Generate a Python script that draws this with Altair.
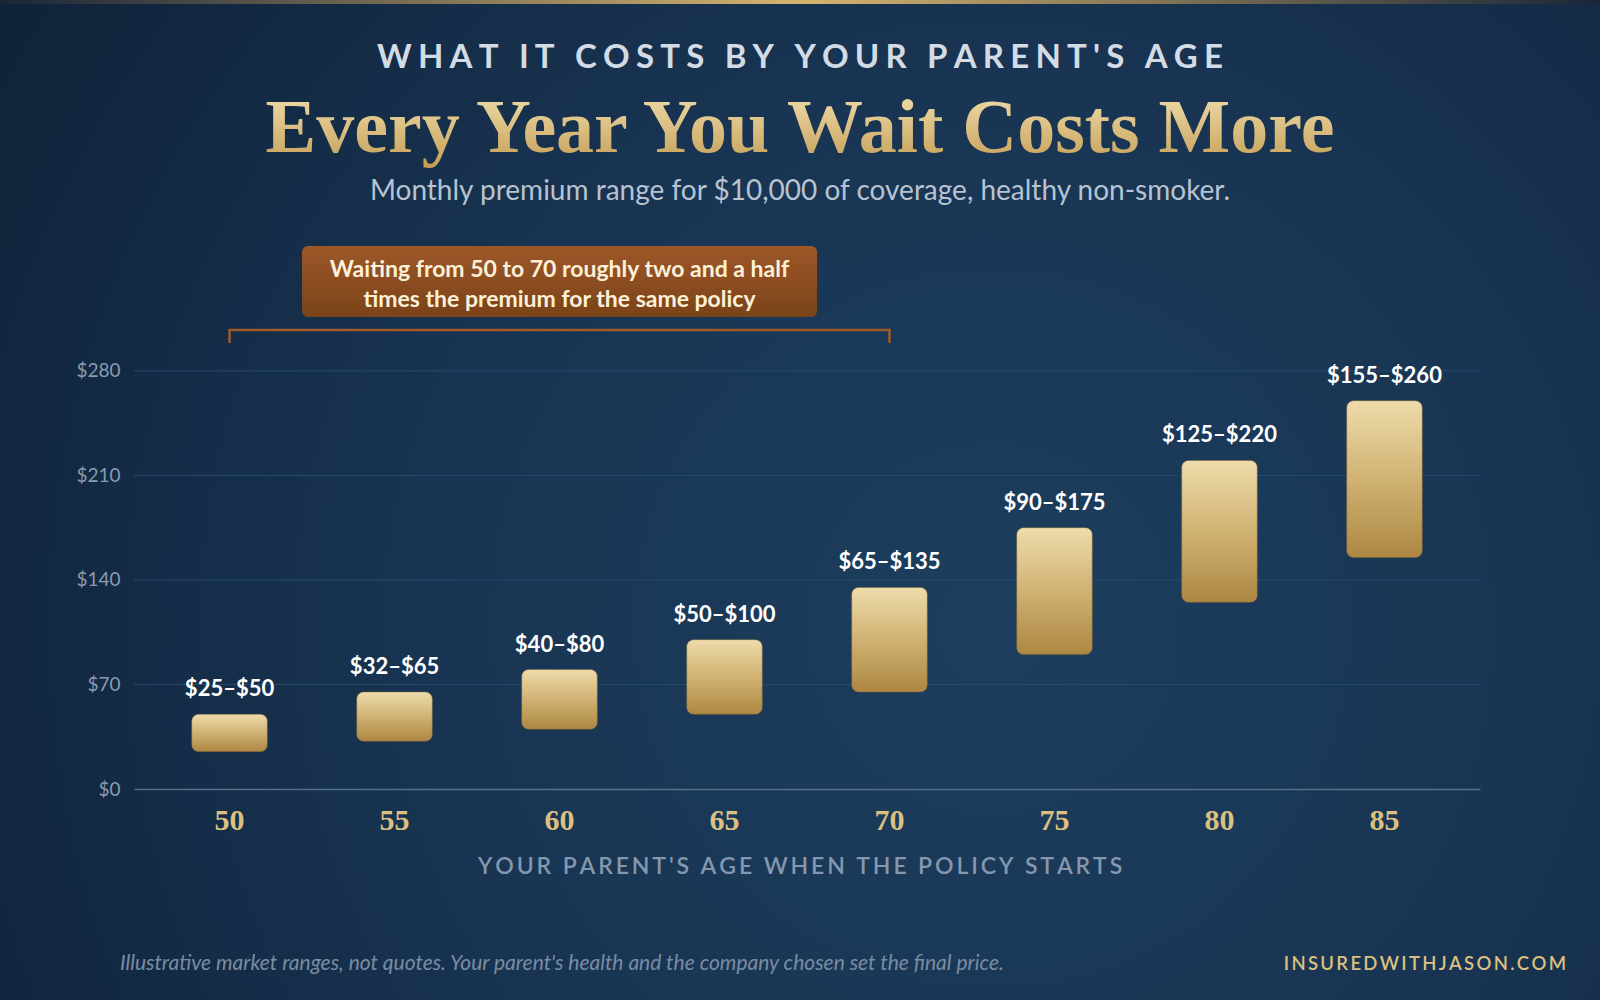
import altair as alt
import pandas as pd

AGES = ["50", "55", "60", "65", "70", "75", "80", "85"]
LOW = [25, 32, 40, 50, 65, 90, 125, 155]
HIGH = [50, 65, 80, 100, 135, 175, 220, 260]
Y_TICKS = [0, 70, 140, 210, 280]
KICKER = "WHAT IT COSTS BY YOUR PARENT'S AGE"
TITLE = "Every Year You Wait Costs More"
SUBTITLE = "Monthly premium range for $10,000 of coverage, healthy non-smoker."
NOTE_LINES = ["Waiting from 50 to 70 roughly two and a half",
              "times the premium for the same policy"]
NOTE_SPAN = ["50", "70"]
NOTE_CENTER = "60"
X_TITLE = "YOUR PARENT'S AGE WHEN THE POLICY STARTS"
FOOTNOTE = "Illustrative market ranges, not quotes. Your parent's health and the company chosen set the final price."
BRAND = "INSUREDWITHJASON.COM"

W, H = 1346, 448
PAD_L, PAD_T = 134, 341


def spaced(s, sep):
    return sep.join(s)


df = pd.DataFrame({
    "age": AGES,
    "lo": LOW,
    "hi": HIGH,
    "label": [f"${a}\u2013${b}" for a, b in zip(LOW, HIGH)],
})

xscale = alt.Scale(domain=AGES, paddingInner=0.542, paddingOuter=0.35)
yscale = alt.Scale(domain=[0, 300])
one = pd.DataFrame({"k": [0]})


def grad_v(c1, c2, mid=None):
    stops = [alt.GradientStop(color=c1, offset=0)]
    if mid:
        stops.append(alt.GradientStop(color=mid, offset=0.5))
    stops.append(alt.GradientStop(color=c2, offset=1))
    return alt.LinearGradient(gradient="linear", stops=stops, x1=0, y1=0, x2=0, y2=1)


bg = alt.Chart(one).mark_rect(
    color=alt.RadialGradient(
        gradient="radial",
        stops=[alt.GradientStop(color="#1d3e5e", offset=0),
               alt.GradientStop(color="#183452", offset=0.45),
               alt.GradientStop(color="#0e1f34", offset=1)],
        x1=0.62, y1=0.58, r1=0, x2=0.62, y2=0.58, r2=0.8)
).encode(x=alt.value(-PAD_L), x2=alt.value(1600 - PAD_L),
         y=alt.value(-PAD_T), y2=alt.value(1000 - PAD_T))

topline = alt.Chart(one).mark_rect(
    color=alt.LinearGradient(
        gradient="linear",
        stops=[alt.GradientStop(color="#1a2638", offset=0),
               alt.GradientStop(color="#d6b46e", offset=0.5),
               alt.GradientStop(color="#1a2638", offset=1)],
        x1=0, y1=0, x2=1, y2=0)
).encode(x=alt.value(-PAD_L), x2=alt.value(1600 - PAD_L),
         y=alt.value(-PAD_T), y2=alt.value(-PAD_T + 4))

grid = alt.Chart(pd.DataFrame({"v": [t for t in Y_TICKS if t > 0]})).mark_rule(
    color="#28496c", strokeWidth=1,
).encode(y=alt.Y("v:Q", scale=yscale, title=None), x=alt.value(0), x2=alt.value(W))

bars = alt.Chart(df).mark_bar(
    cornerRadius=7,
    color=grad_v("#eedcab", "#ad8742", "#d0b273"),
    stroke="#7d6130", strokeWidth=0.8, strokeOpacity=0.6,
).encode(
    x=alt.X("age:N", scale=xscale, title=None,
            axis=alt.Axis(labelFont="Liberation Serif", labelFontSize=30,
                          labelFontWeight="bold", labelColor="#dcc07f",
                          labelPadding=16, labelAngle=0, ticks=False,
                          domainColor="#566f89", domainWidth=1.5, grid=False,
                          zindex=1)),
    y=alt.Y("lo:Q", scale=yscale, title=None,
            axis=alt.Axis(values=Y_TICKS, labelExpr="'$' + datum.value",
                          labelFont="Lato", labelFontSize=19, labelColor="#8a9bb0",
                          labelPadding=14, domain=False, ticks=False,
                          grid=False, zindex=1)),
    y2="hi:Q",
)

values = alt.Chart(df).mark_text(
    font="Lato", fontSize=22, fontWeight="bold", color="#ffffff",
    baseline="alphabetic", dy=-18,
).encode(x=alt.X("age:N", scale=xscale, title=None),
         y=alt.Y("hi:Q", scale=yscale, title=None), text="label:N")

note_box = alt.Chart(pd.DataFrame({"age": [NOTE_CENTER]})).mark_bar(
    width=515, cornerRadius=6, color=grad_v("#9d5729", "#7a4318"),
).encode(x=alt.X("age:N", scale=xscale, title=None),
         y=alt.value(-95), y2=alt.value(-24))


def note_line(text, y):
    return alt.Chart(pd.DataFrame({"age": [NOTE_CENTER], "t": [text]})).mark_text(
        font="Lato", fontSize=23, fontWeight="bold", color="#fdf0d8", baseline="middle",
    ).encode(x=alt.X("age:N", scale=xscale, title=None), y=alt.value(y), text="t:N")


note1 = note_line(NOTE_LINES[0], -71)
note2 = note_line(NOTE_LINES[1], -41)

bracket = alt.Chart(pd.DataFrame({"age": [NOTE_SPAN[0]], "end": [NOTE_SPAN[1]]})).mark_rule(
    color="#a15a2a", strokeWidth=2.5,
).encode(x=alt.X("age:N", scale=xscale, title=None), x2="end:N", y=alt.value(-11))

bracket_ends = alt.Chart(pd.DataFrame({"age": NOTE_SPAN})).mark_rule(
    color="#a15a2a", strokeWidth=2.5,
).encode(x=alt.X("age:N", scale=xscale, title=None), y=alt.value(-12), y2=alt.value(2))


def header(text, y, **kw):
    return alt.Chart(pd.DataFrame({"t": [text]})).mark_text(**kw).encode(
        text="t:N", x=alt.value(666), y=alt.value(y))


kicker = header(spaced(KICKER, "\u2009\u200a"), -283, font="Lato", fontSize=33,
                fontWeight="bold", color="#d3dbe5", baseline="middle")
title = header(TITLE, -189, font="Liberation Serif", fontSize=76, fontWeight="bold",
               baseline="alphabetic", color=grad_v("#f3e3b2", "#c49d55"))
subtitle = header(SUBTITLE, -141, font="Lato", fontSize=28, color="#b7c3d1",
                  baseline="alphabetic")
xtitle = header(spaced(X_TITLE, "\u2009"), 526, font="Lato", fontSize=23,
                fontWeight=600, color="#8597ae", baseline="middle")

foot = alt.Chart(pd.DataFrame({"t": [FOOTNOTE]})).mark_text(
    font="Lato", fontSize=21, fontStyle="italic", color="#7a8ca3",
    align="left", baseline="middle",
).encode(text="t:N", x=alt.value(-14), y=alt.value(623))

brand = alt.Chart(pd.DataFrame({"t": [spaced(BRAND, "\u2009")]})).mark_text(
    font="Lato", fontSize=18.5, fontWeight=600, color="#dcc07f",
    align="right", baseline="middle",
).encode(text="t:N", x=alt.value(1432), y=alt.value(623))

chart = alt.layer(
    bg, topline, grid, bars, values, note_box, note1, note2, bracket, bracket_ends,
    kicker, title, subtitle, xtitle, foot, brand,
).properties(
    width=W, height=H,
    autosize=alt.AutoSizeParams(type="none"),
    padding={"left": PAD_L, "top": PAD_T, "right": 1600 - PAD_L - W,
             "bottom": 1000 - PAD_T - H},
    background="#10223a",
).configure_view(stroke=None)

chart.save("out.html", embed_options={"renderer": "svg", "actions": False})
